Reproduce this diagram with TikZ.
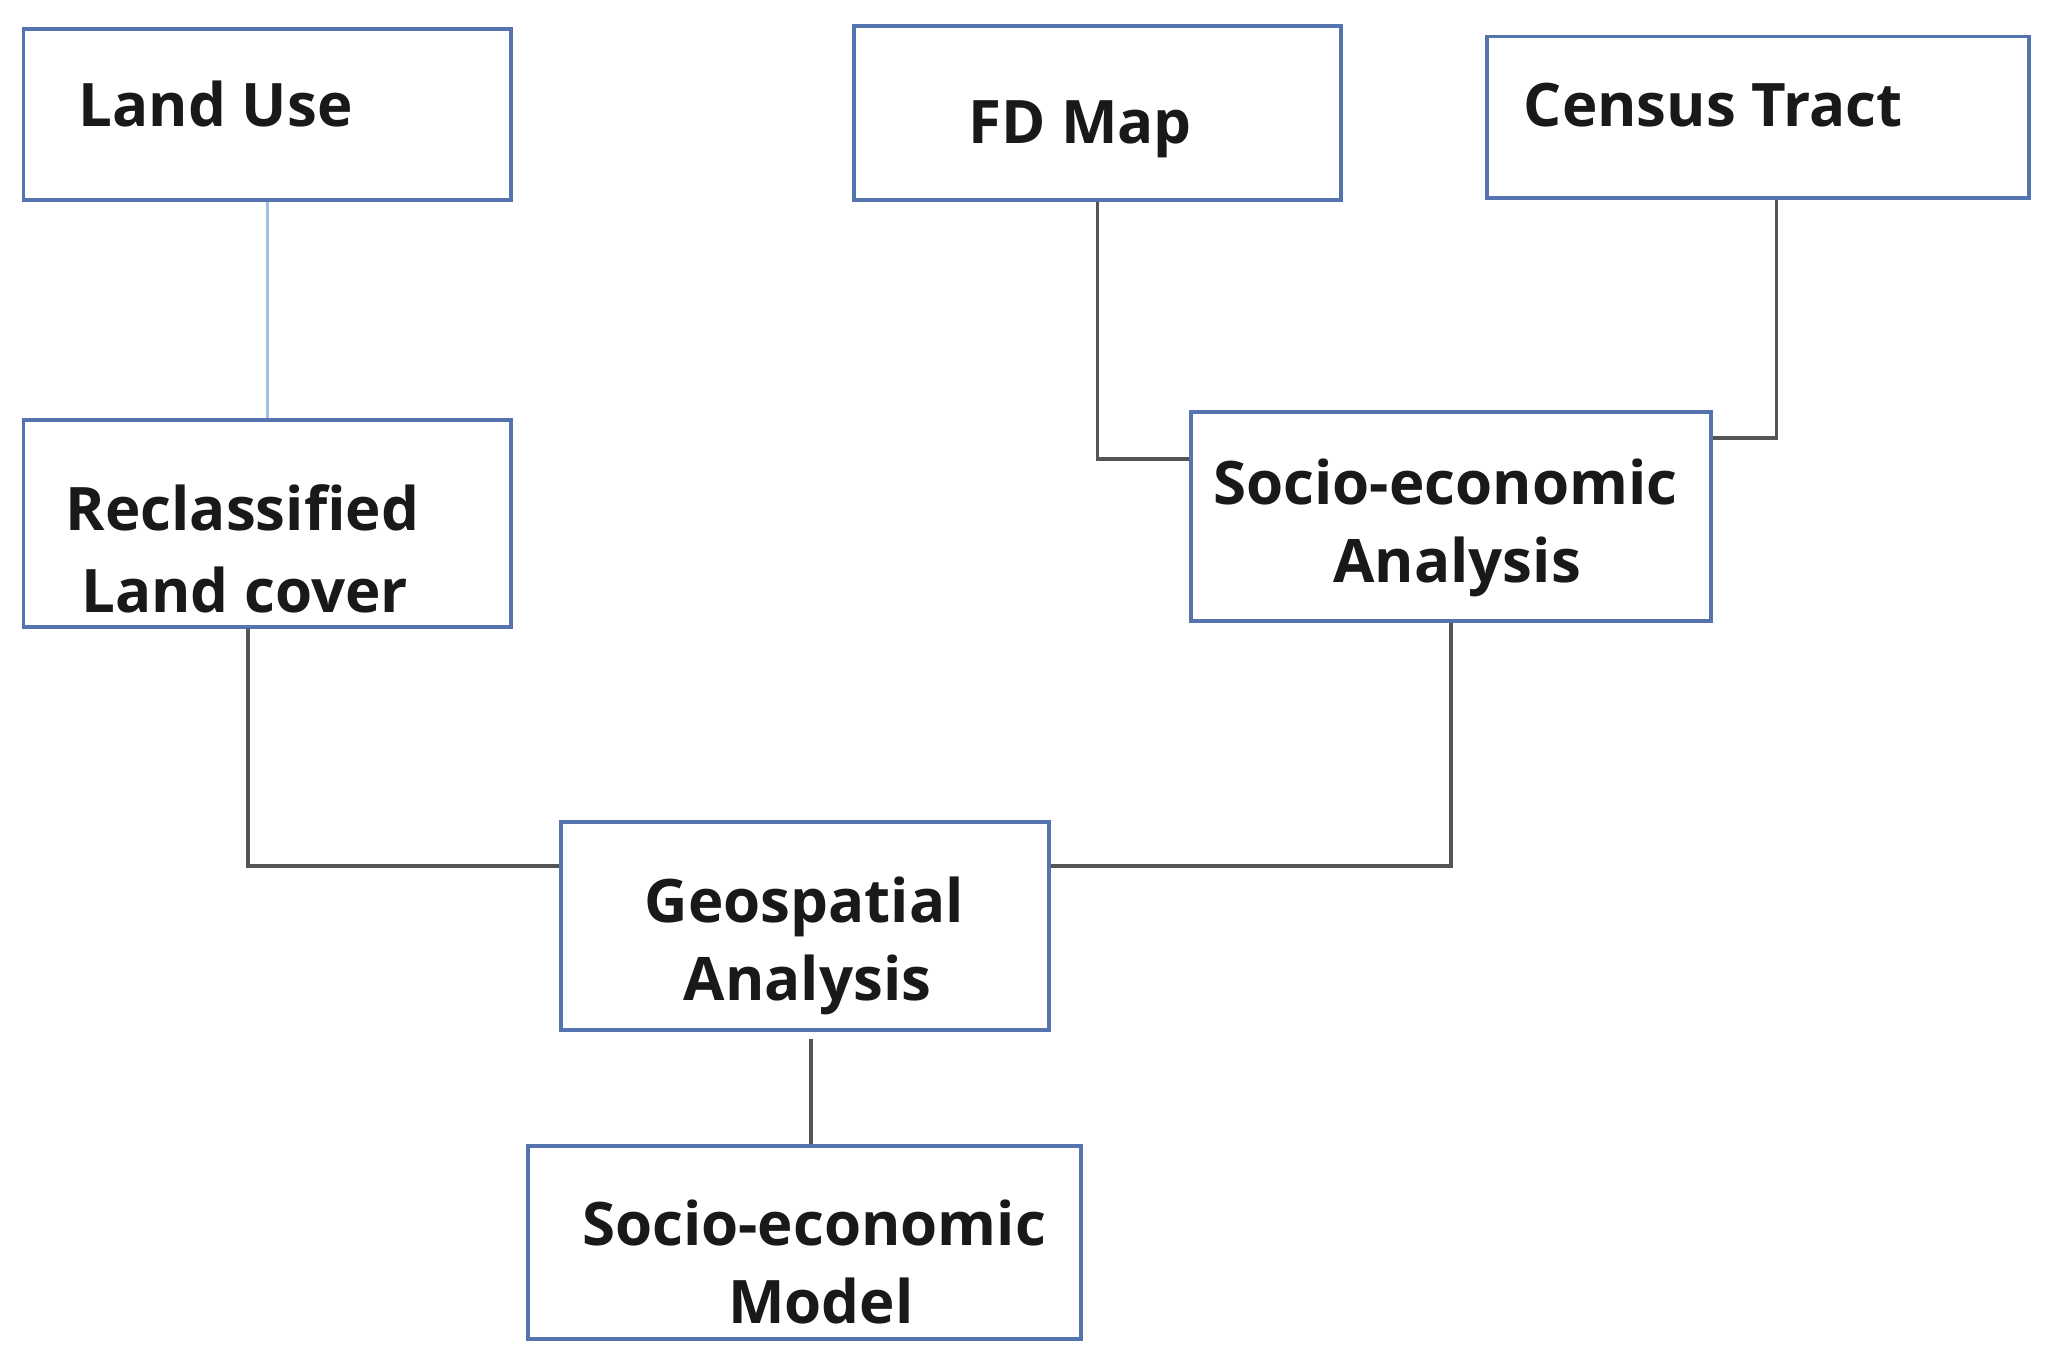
\documentclass[tikz,border=0pt]{standalone}
\usepackage{fontspec}
\setmainfont{Open Sans}
\usetikzlibrary{calc}
\definecolor{boxc}{RGB}{85,115,175}
\definecolor{linec}{RGB}{85,85,85}
\definecolor{lightc}{RGB}{160,190,230}
\begin{document}
\begin{tikzpicture}[x=0.5pt,y=-0.5pt,
  box/.style 2 args={draw=boxc,line width=1.5pt,rectangle,inner sep=0pt,minimum width=#1*0.5pt,minimum height=#2*0.5pt},
  lbl/.style={anchor=base west,inner sep=0pt,font=\bfseries\fontsize{23}{27}\selectfont,text=black!90},
  conn/.style={draw=linec,line width=1.4pt}]
\useasboundingbox[fill=white] (0,0) rectangle (1568,1040);
\node[box={374}{131}] (landuse) at (205,87.5) {};
\node[box={373}{133}] (fd) at (841.5,86.5) {};
\node[box={416}{124}] (census) at (1348,90) {};
\node[box={374}{159}] (rec) at (205,401.5) {};
\node[box={399}{160}] (sea) at (1112.5,396) {};
\node[box={374}{160}] (geo) at (617,710) {};
\node[box={424}{148}] (model) at (617,953) {};
\node[lbl] (t1) at (60,97) {Land Use};
\node[lbl] (t2) at (742,110) {FD Map};
\node[lbl] (t3) at (1168,97) {Census Tract};
\node[lbl] (t4) at (50,407) {Reclassified};
\node[lbl] (t5) at (62,470) {Land cover};
\node[lbl] (t6) at (930,387) {Socio-economic};
\node[lbl] (t7) at (1022,447) {Analysis};
\node[lbl] (t8) at (494,707) {Geospatial};
\node[lbl] (t9) at (524,767) {Analysis};
\node[lbl] (t10) at (446,955) {Socio-economic};
\node[lbl] (t11) at (558,1015) {Model};
\draw[draw=lightc,line width=1.4pt] (landuse.south) -- (rec.north);
\draw[conn] ($(rec.south)+(-15,0)$) |- ($(geo.west)+(0,-46)$);
\draw[conn] (sea.south) |- ($(geo.east)+(0,-46)$);
\draw[conn] (fd.south) |- ($(sea.west)+(0,-44)$);
\draw[conn] ($(census.south)+(14,0)$) |- ($(sea.east)+(0,-60)$);
\draw[conn] ($(geo.south)+(5,5)$) -- ($(model.north)+(5,0)$);
\end{tikzpicture}
\end{document}
